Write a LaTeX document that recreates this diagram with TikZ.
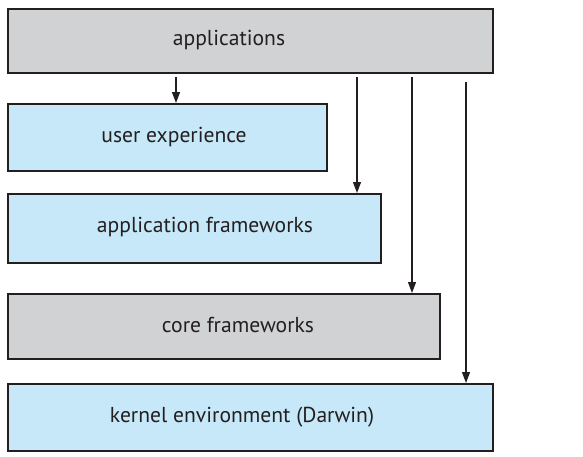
\documentclass[tikz,border=0pt]{standalone}
\usepackage{fontspec}
\setmainfont{PT Sans}
\usetikzlibrary{arrows.meta}

\definecolor{boxgray}{HTML}{D1D2D4}
\definecolor{boxblue}{HTML}{C7E8F8}
\definecolor{inkline}{HTML}{231F20}

\tikzset{
  layerbox/.style={draw=inkline, line width=1.6pt, rectangle, anchor=north west, inner sep=0pt},
  graylayer/.style={layerbox, fill=boxgray},
  bluelayer/.style={layerbox, fill=boxblue},
  layertext/.style={font=\fontsize{21.6}{26}\selectfont, text=inkline, inner sep=0pt},
  callarrow/.style={draw=inkline, line width=1.2pt, -{Triangle[length=11pt, width=8pt]}}
}

\begin{document}
\begin{tikzpicture}[x=1pt, y=-1pt]
\useasboundingbox (0,0) rectangle (583,456);
%Boxes
\node [graylayer, minimum width=485pt, minimum height=64pt] (apps) at (7,8) {};
\node [bluelayer, minimum width=319pt, minimum height=67pt] (ux) at (7,103) {};
\node [bluelayer, minimum width=373pt, minimum height=69pt] (appfw) at (7,193) {};
\node [graylayer, minimum width=432pt, minimum height=65pt] (corefw) at (7,293) {};
\node [bluelayer, minimum width=485pt, minimum height=67pt] (kernel) at (7,383) {};
%Text
\node [layertext] (apps-t) at (229,40) {applications};
\node [layertext] (ux-t) at (174,137) {user experience};
\node [layertext] (appfw-t) at (205,227) {application frameworks};
\node [layertext] (corefw-t) at (238,325) {core frameworks};
\node [layertext] (kernel-t) at (242,417) {kernel environment (Darwin)};
%Arrows
\coordinate (s1) at (176,77);
\coordinate (s2) at (357,77);
\coordinate (s3) at (412,77);
\coordinate (s4) at (466,82);
\draw [callarrow] (s1) -- (s1 |- ux.north);
\draw [callarrow] (s2) -- (s2 |- appfw.north);
\draw [callarrow] (s3) -- (s3 |- corefw.north);
\draw [callarrow] (s4) -- (s4 |- kernel.north);
\end{tikzpicture}
\end{document}
